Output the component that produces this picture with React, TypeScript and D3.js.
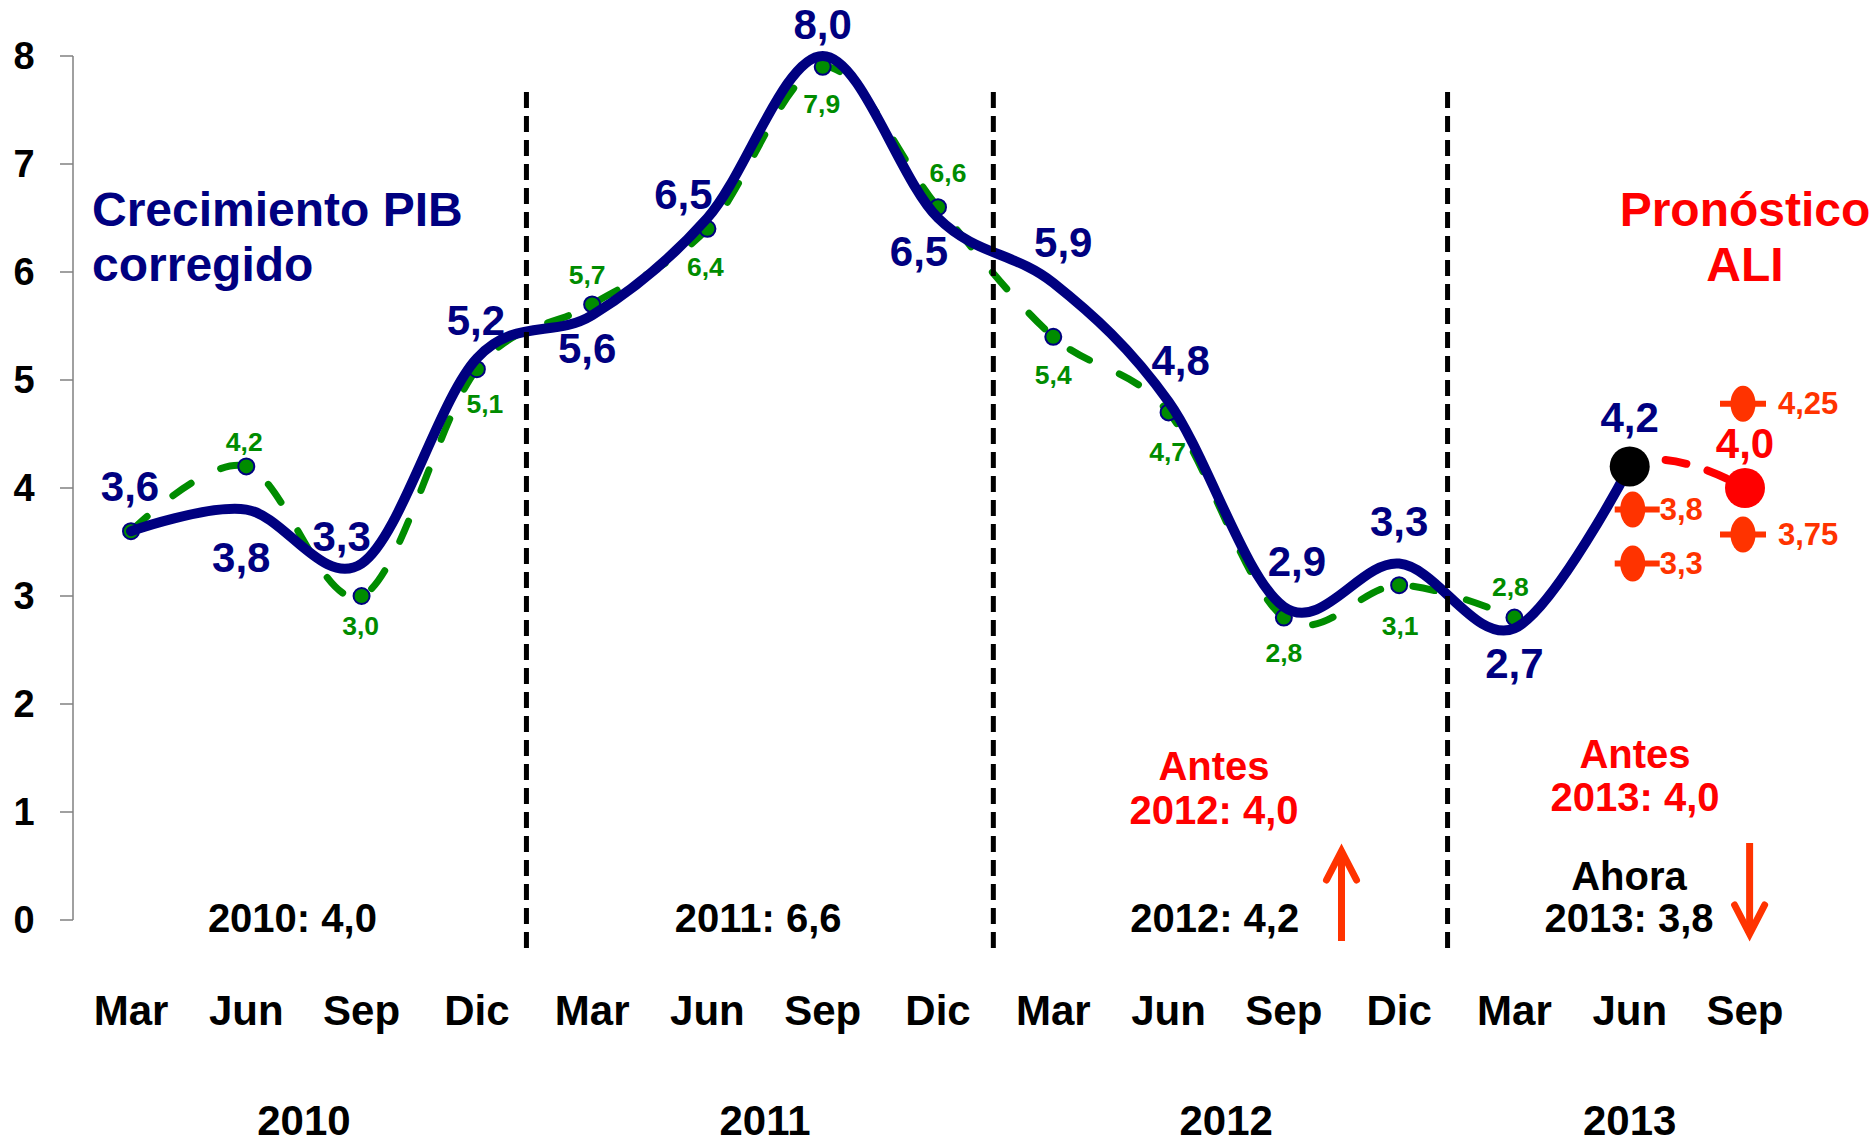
import React from 'react';
import * as d3 from 'd3';

const months = ['Mar', 'Jun', 'Sep', 'Dic', 'Mar', 'Jun', 'Sep', 'Dic', 'Mar', 'Jun', 'Sep', 'Dic', 'Mar', 'Jun', 'Sep'];
const yearLabels = ['2010', '2011', '2012', '2013'];
const yearCenters = [1.5, 5.5, 9.5, 13];
const yTicks = [0, 1, 2, 3, 4, 5, 6, 7, 8];

// Crecimiento PIB corregido (blue)
const corrected = [3.6, 3.8, 3.3, 5.2, 5.6, 6.5, 8.0, 6.5, 5.9, 4.8, 2.9, 3.3, 2.7, 4.2];
// Original series (green dashed)
const original = [3.6, 4.2, 3.0, 5.1, 5.7, 6.4, 7.9, 6.6, 5.4, 4.7, 2.8, 3.1, 2.8];
// Forecast (red dashed) indices and values
const forecastIdx = [12, 13, 14];
const forecastVals = [2.7, 4.2, 4.0];
// Forecast ranges
const rangeIdx = [13, 13, 14, 14];
const rangePos = [3.8, 3.3, 4.78, 3.57];
const rangeLabels = ['3,8', '3,3', '4,25', '3,75'];

const separators = [3.43, 7.48, 11.42];
const annualNotes = ['2010: 4,0', '2011: 6,6', '2012: 4,2'];
const annualNoteIdx = [1.4, 5.44, 9.4];

// label offsets (layout)
const blueOff = [[-1, -45], [-5, 48], [-20, -27], [-1, -38], [-5, 33], [-24, -24], [0, -32], [-19, 33], [10, -40], [12, -41], [13, -45], [0, -42], [0, 35], [0, -49]];
const greenOff = [null, [-2, -24], [-1, 30], [8, 35], [-5, -29], [-2, 38], [-1, 37], [10, -34], [0, 38], [-1, 40], [0, 35], [1, 41], [-4, -31]];

const W = 1874;
const H = 1144;
const FONT = '"Liberation Sans", Arial, Helvetica, sans-serif';
const NAVY = '#000080';
const GREEN = '#008c00';
const RED = '#ff0000';
const ORANGE = '#ff3300';

const fmt = (v: number) => v.toFixed(1).replace('.', ',');

export default function App() {
  const x = d3.scaleLinear().domain([0, 14]).range([131, 1745]);
  const y = d3.scaleLinear().domain([0, 8]).range([920, 56]);

  const line = d3
    .line<[number, number]>()
    .x((d) => x(d[0]))
    .y((d) => y(d[1]))
    .curve(d3.curveCardinal.tension(0));

  const bluePts: [number, number][] = corrected.map((v, i) => [i, v]);
  const greenPts: [number, number][] = original.map((v, i) => [i, v]);
  const redPts: [number, number][] = forecastVals.map((v, i) => [forecastIdx[i], v]);

  const jx = x(13);
  const sx = x(14);

  return (
    <svg width={W} height={H} style={{ position: 'absolute', left: 0, top: 0, background: '#fff' }} fontFamily={FONT}>
      <defs>
        <clipPath id="fc">
          <rect x={jx} y={0} width={W - jx} height={H} />
        </clipPath>
      </defs>
      {/* y axis */}
      <line x1={73} x2={73} y1={y(8)} y2={y(0)} stroke="#808080" strokeWidth={1.5} />
      {yTicks.map((t) => (
        <g key={t}>
          <line x1={60} x2={73} y1={y(t)} y2={y(t)} stroke="#808080" strokeWidth={1.5} />
          <text x={24} y={y(t)} textAnchor="middle" dominantBaseline="central" fontSize={38} fontWeight="bold" fill="#000">
            {t}
          </text>
        </g>
      ))}

      {/* green dashed original */}
      <path d={line(greenPts) || ''} fill="none" stroke={GREEN} strokeWidth={7} strokeDasharray="22 33" strokeLinecap="round" />
      {greenPts.map(([i, v]) => (
        <circle key={i} cx={x(i)} cy={y(v)} r={8} fill={GREEN} stroke={NAVY} strokeWidth={2} />
      ))}

      {/* blue corrected */}
      <path d={line(bluePts) || ''} fill="none" stroke={NAVY} strokeWidth={10} strokeLinecap="round" />

      {/* forecast red */}
      <path d={line(redPts) || ''} fill="none" stroke={RED} strokeWidth={8} strokeDasharray="21 22" strokeLinecap="round" clipPath="url(#fc)" strokeDashoffset={-22} />
      <circle cx={x(13)} cy={y(4.2)} r={20} fill="#000" />
      <circle cx={x(14)} cy={y(4.0)} r={20} fill={RED} />

      {/* range markers */}
      {rangePos.map((p, k) => {
        const jun = rangeIdx[k] === 13;
        const cx = x(rangeIdx[k]) + (jun ? 3 : -2);
        const cy = y(p);
        return (
          <g key={k}>
            <line x1={cx - (jun ? 18 : 23)} x2={cx + (jun ? 27 : 23)} y1={cy} y2={cy} stroke={ORANGE} strokeWidth={6} />
            <ellipse cx={cx} cy={cy} rx={12.5} ry={18} fill={ORANGE} />
            <text x={cx + (jun ? 27 : 35)} y={cy} dominantBaseline="central" fontSize={31} fontWeight="bold" fill={ORANGE}>
              {rangeLabels[k]}
            </text>
          </g>
        );
      })}

      {/* separators */}
      {separators.map((s, k) => (
        <line key={k} x1={x(s)} x2={x(s)} y1={92} y2={953} stroke="#000" strokeWidth={5} strokeDasharray="16 8" />
      ))}

      {/* green labels */}
      {original.map((v, i) => {
        const o = greenOff[i];
        if (!o) return null;
        return (
          <text key={i} x={x(i) + o[0]} y={y(v) + o[1]} textAnchor="middle" dominantBaseline="central" fontSize={26.5} fontWeight="bold" fill={GREEN}>
            {fmt(v)}
          </text>
        );
      })}

      {/* blue labels */}
      {corrected.map((v, i) => (
        <text key={i} x={x(i) + blueOff[i][0]} y={y(v) + blueOff[i][1]} textAnchor="middle" dominantBaseline="central" fontSize={42} fontWeight="bold" fill={NAVY}>
          {fmt(v)}
        </text>
      ))}
      <text x={x(14)} y={y(4.0) - 45} textAnchor="middle" dominantBaseline="central" fontSize={42} fontWeight="bold" fill={RED}>
        {fmt(forecastVals[2])}
      </text>

      {/* titles */}
      <text x={92} y={209} dominantBaseline="central" fontSize={48} fontWeight="bold" fill={NAVY}>
        Crecimiento PIB
      </text>
      <text x={92} y={264} dominantBaseline="central" fontSize={48} fontWeight="bold" fill={NAVY}>
        corregido
      </text>
      <text x={sx} y={209} textAnchor="middle" dominantBaseline="central" fontSize={48} fontWeight="bold" fill={RED}>
        Pronóstico
      </text>
      <text x={sx} y={264} textAnchor="middle" dominantBaseline="central" fontSize={48} fontWeight="bold" fill={RED}>
        ALI
      </text>

      {/* annual notes */}
      {annualNotes.map((t, k) => (
        <text key={k} x={x(annualNoteIdx[k])} y={918} textAnchor="middle" dominantBaseline="central" fontSize={40} fontWeight="bold" fill="#000">
          {t}
        </text>
      ))}
      <text x={1214} y={766} textAnchor="middle" dominantBaseline="central" fontSize={40} fontWeight="bold" fill={RED}>Antes</text>
      <text x={1214} y={810} textAnchor="middle" dominantBaseline="central" fontSize={40} fontWeight="bold" fill={RED}>2012: 4,0</text>
      <text x={1635} y={754} textAnchor="middle" dominantBaseline="central" fontSize={40} fontWeight="bold" fill={RED}>Antes</text>
      <text x={1635} y={797} textAnchor="middle" dominantBaseline="central" fontSize={40} fontWeight="bold" fill={RED}>2013: 4,0</text>
      <text x={1629} y={876} textAnchor="middle" dominantBaseline="central" fontSize={40} fontWeight="bold" fill="#000">Ahora</text>
      <text x={1629} y={918} textAnchor="middle" dominantBaseline="central" fontSize={40} fontWeight="bold" fill="#000">2013: 3,8</text>

      {/* arrows */}
      <g stroke={ORANGE} strokeWidth={7} fill="none" strokeLinecap="round" strokeLinejoin="miter">
        <line x1={x(10.5)} x2={x(10.5)} y1={941} y2={852} strokeLinecap="butt" />
        <polyline points={`${x(10.5) - 15},${880} ${x(10.5)},${851} ${x(10.5) + 15},${880}`} />
        <line x1={x(14.04)} x2={x(14.04)} y1={843} y2={932} strokeLinecap="butt" />
        <polyline points={`${x(14.04) - 15},${905} ${x(14.04)},${934} ${x(14.04) + 15},${905}`} />
      </g>

      {/* x labels */}
      {months.map((m, i) => (
        <text key={i} x={x(i)} y={1010} textAnchor="middle" dominantBaseline="central" fontSize={42} fontWeight="bold" fill="#000">
          {m}
        </text>
      ))}
      {yearLabels.map((yl, k) => (
        <text key={k} x={x(yearCenters[k])} y={1120} textAnchor="middle" dominantBaseline="central" fontSize={42} fontWeight="bold" fill="#000">
          {yl}
        </text>
      ))}
    </svg>
  );
}
